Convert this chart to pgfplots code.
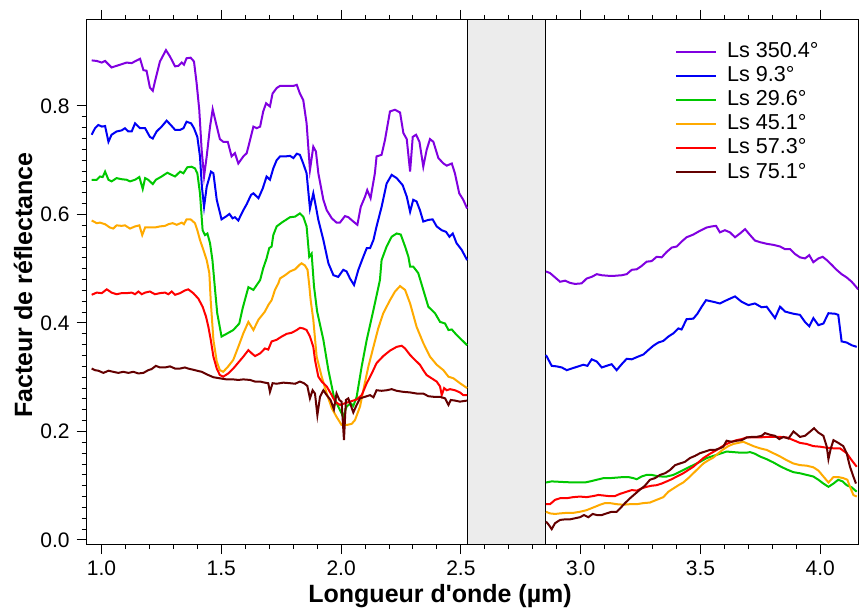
\documentclass[border=0pt]{standalone}
\usepackage{pgfplots}
\pgfplotsset{compat=1.18}
\usepackage{fontspec}
\setmainfont{Liberation Sans}[Ligatures=TeXOff]
\definecolor{cpur}{RGB}{128,0,224}
\definecolor{cblu}{RGB}{0,0,245}
\definecolor{cgre}{RGB}{0,200,0}
\definecolor{cora}{RGB}{255,170,0}
\definecolor{cred}{RGB}{255,0,0}
\definecolor{cdrk}{RGB}{100,0,0}
\definecolor{band}{RGB}{236,236,236}
\begin{document}
\begin{tikzpicture}
\begin{axis}[
 scale only axis,
 width=385.8pt, height=262pt,
 xmin=0.9382, xmax=4.1586, ymin=-0.0074, ymax=0.9585,
 xtick={1,1.5,2,2.5,3,3.5,4}, ytick={0,0.2,0.4,0.6,0.8},
 minor x tick num=4, minor y tick num=9,
 tick align=outside, major tick length=5pt, minor tick length=2.5pt,
 every tick/.style={black, line width=0.5pt},
 axis line style={line width=0.5pt},
 /pgf/number format/assume math mode=true,
 xticklabel style={/pgf/number format/.cd, fixed, fixed zerofill, precision=1},
 yticklabel style={/pgf/number format/.cd, fixed, fixed zerofill, precision=1},
 tick label style={font=\fontsize{10.5}{12}\selectfont},
 xlabel={Longueur d'onde (µm)}, ylabel={Facteur de réflectance},
 label style={font=\bfseries\fontsize{12.5}{14}\selectfont},
 xlabel style={at={(axis description cs:0.458,-0.1107)}, anchor=base},
 ylabel style={at={(axis description cs:-0.0826,0.494)}, anchor=center},
 unbounded coords=jump,
 legend style={draw=none, fill=none, at={(axis description cs:0.7620,0.9654)}, anchor=north west,
   font=\fontsize{10.8}{12}\selectfont, row sep=-1.0pt, inner sep=0pt,
   /tikz/every odd column/.append style={column sep=3pt}},
 legend cell align=left,
 legend image code/.code={\draw[#1] (0pt,0pt) -- (20pt,0pt);},
 every axis plot/.append style={line width=1pt},
]
\fill[band] (axis cs:2.527,-0.0074) rectangle (axis cs:2.852,0.9585);
\draw[black, line width=0.5pt] (axis cs:2.527,-0.0074) -- (axis cs:2.527,0.9585);
\draw[black, line width=0.5pt] (axis cs:2.852,-0.0074) -- (axis cs:2.852,0.9585);

\addplot[cpur] table {
0.959 0.884
0.980 0.883
1.001 0.880
1.015 0.883
1.042 0.871
1.063 0.874
1.084 0.877
1.105 0.880
1.126 0.879
1.147 0.884
1.161 0.887
1.175 0.866
1.188 0.865
1.202 0.834
1.214 0.828
1.223 0.845
1.244 0.882
1.269 0.903
1.286 0.891
1.307 0.873
1.321 0.874
1.335 0.880
1.344 0.876
1.355 0.888
1.372 0.889
1.386 0.882
1.397 0.842
1.408 0.793
1.418 0.719
1.428 0.670
1.439 0.707
1.453 0.762
1.464 0.794
1.478 0.768
1.494 0.739
1.508 0.734
1.527 0.734
1.543 0.707
1.557 0.713
1.571 0.694
1.592 0.707
1.606 0.713
1.620 0.737
1.634 0.762
1.648 0.759
1.662 0.762
1.675 0.790
1.687 0.805
1.703 0.799
1.714 0.823
1.731 0.833
1.745 0.837
1.773 0.837
1.801 0.837
1.815 0.839
1.828 0.823
1.842 0.811
1.856 0.768
1.870 0.682
1.884 0.725
1.895 0.716
1.905 0.676
1.926 0.627
1.940 0.608
1.961 0.593
1.981 0.585
1.995 0.585
2.016 0.597
2.030 0.595
2.051 0.587
2.068 0.581
2.082 0.614
2.100 0.633
2.109 0.645
2.123 0.630
2.141 0.676
2.148 0.707
2.169 0.710
2.183 0.737
2.204 0.790
2.225 0.793
2.246 0.788
2.260 0.750
2.274 0.739
2.288 0.679
2.299 0.743
2.313 0.747
2.327 0.734
2.343 0.688
2.357 0.719
2.371 0.739
2.385 0.734
2.406 0.704
2.427 0.694
2.441 0.690
2.462 0.694
2.475 0.676
2.493 0.639
2.510 0.627
2.526 0.611
2.700 nan
2.855 0.495
2.872 0.492
2.893 0.484
2.914 0.476
2.935 0.478
2.955 0.474
2.976 0.472
3.004 0.473
3.025 0.482
3.046 0.485
3.067 0.490
3.088 0.488
3.115 0.487
3.143 0.487
3.171 0.488
3.192 0.490
3.213 0.498
3.234 0.499
3.254 0.505
3.275 0.513
3.296 0.514
3.317 0.522
3.338 0.521
3.359 0.531
3.380 0.539
3.401 0.541
3.421 0.550
3.442 0.558
3.470 0.563
3.498 0.570
3.526 0.576
3.547 0.578
3.565 0.579
3.581 0.567
3.602 0.571
3.623 0.567
3.644 0.558
3.665 0.565
3.686 0.573
3.707 0.562
3.727 0.552
3.748 0.549
3.776 0.546
3.804 0.544
3.832 0.541
3.853 0.536
3.874 0.536
3.895 0.527
3.915 0.521
3.936 0.519
3.954 0.525
3.971 0.512
3.992 0.519
4.010 0.522
4.027 0.516
4.048 0.507
4.068 0.498
4.089 0.490
4.110 0.484
4.131 0.476
4.145 0.469
4.158 0.462
};
\addlegendentry{Ls 350.4°}

\addplot[cblu] table {
0.959 0.747
0.973 0.759
0.987 0.765
1.001 0.762
1.015 0.763
1.029 0.734
1.042 0.747
1.063 0.753
1.084 0.755
1.098 0.759
1.112 0.753
1.126 0.753
1.140 0.768
1.161 0.759
1.182 0.759
1.202 0.743
1.214 0.740
1.230 0.753
1.251 0.762
1.272 0.773
1.293 0.763
1.307 0.756
1.328 0.756
1.342 0.759
1.355 0.771
1.374 0.768
1.386 0.759
1.400 0.743
1.411 0.707
1.419 0.651
1.428 0.614
1.439 0.651
1.457 0.679
1.467 0.676
1.481 0.627
1.501 0.591
1.522 0.597
1.534 0.601
1.547 0.593
1.557 0.595
1.571 0.589
1.592 0.608
1.606 0.619
1.624 0.636
1.634 0.639
1.655 0.630
1.673 0.648
1.689 0.670
1.703 0.664
1.717 0.685
1.731 0.700
1.745 0.707
1.766 0.707
1.787 0.708
1.801 0.704
1.815 0.712
1.828 0.710
1.842 0.694
1.856 0.676
1.870 0.611
1.884 0.639
1.895 0.614
1.905 0.590
1.926 0.553
1.947 0.510
1.968 0.488
1.988 0.485
2.009 0.498
2.023 0.495
2.037 0.482
2.054 0.470
2.072 0.498
2.090 0.519
2.107 0.538
2.121 0.538
2.135 0.553
2.148 0.578
2.169 0.614
2.190 0.657
2.211 0.673
2.232 0.667
2.257 0.654
2.274 0.633
2.288 0.605
2.301 0.627
2.315 0.624
2.329 0.608
2.343 0.587
2.364 0.590
2.382 0.591
2.399 0.578
2.420 0.571
2.438 0.568
2.452 0.559
2.466 0.565
2.482 0.547
2.503 0.535
2.526 0.516
2.700 nan
2.855 0.341
2.879 0.321
2.900 0.320
2.921 0.318
2.942 0.313
2.962 0.316
2.990 0.320
3.011 0.323
3.028 0.321
3.046 0.333
3.067 0.329
3.088 0.318
3.108 0.321
3.129 0.324
3.150 0.313
3.171 0.324
3.192 0.334
3.213 0.333
3.234 0.337
3.262 0.342
3.282 0.350
3.303 0.358
3.324 0.364
3.345 0.367
3.366 0.375
3.387 0.381
3.408 0.390
3.421 0.388
3.442 0.407
3.470 0.408
3.487 0.417
3.505 0.430
3.523 0.442
3.554 0.439
3.581 0.436
3.609 0.442
3.644 0.449
3.672 0.439
3.700 0.433
3.727 0.436
3.755 0.429
3.776 0.430
3.811 0.409
3.832 0.430
3.853 0.421
3.888 0.417
3.915 0.415
3.936 0.402
3.954 0.394
3.971 0.409
3.992 0.396
4.013 0.399
4.034 0.418
4.062 0.417
4.075 0.415
4.089 0.366
4.110 0.364
4.131 0.359
4.152 0.356
};
\addlegendentry{Ls 9.3°}

\addplot[cgre] table {
0.959 0.664
0.980 0.664
0.994 0.670
1.005 0.669
1.015 0.679
1.029 0.664
1.042 0.661
1.063 0.667
1.084 0.665
1.105 0.664
1.119 0.661
1.140 0.664
1.158 0.669
1.172 0.647
1.182 0.667
1.195 0.664
1.214 0.656
1.227 0.664
1.251 0.670
1.275 0.677
1.293 0.673
1.307 0.670
1.328 0.679
1.342 0.676
1.358 0.687
1.376 0.688
1.390 0.685
1.400 0.676
1.411 0.639
1.422 0.571
1.432 0.562
1.442 0.565
1.453 0.547
1.463 0.516
1.474 0.461
1.483 0.418
1.501 0.375
1.522 0.380
1.550 0.387
1.575 0.399
1.589 0.427
1.613 0.466
1.634 0.461
1.662 0.479
1.675 0.501
1.689 0.519
1.700 0.538
1.710 0.541
1.717 0.562
1.731 0.578
1.752 0.585
1.773 0.591
1.787 0.595
1.808 0.596
1.828 0.602
1.842 0.596
1.856 0.578
1.867 0.522
1.877 0.528
1.887 0.467
1.900 0.421
1.926 0.369
1.947 0.313
1.970 0.264
1.988 0.246
2.009 0.227
2.023 0.246
2.040 0.252
2.051 0.247
2.065 0.264
2.086 0.320
2.107 0.369
2.135 0.424
2.162 0.479
2.169 0.516
2.190 0.541
2.211 0.559
2.232 0.565
2.249 0.563
2.267 0.541
2.281 0.522
2.288 0.504
2.301 0.504
2.322 0.492
2.343 0.461
2.364 0.430
2.392 0.418
2.413 0.402
2.434 0.399
2.448 0.387
2.462 0.388
2.482 0.378
2.503 0.369
2.526 0.359
2.700 nan
2.855 0.106
2.879 0.108
2.921 0.107
2.969 0.106
3.018 0.106
3.039 0.108
3.067 0.111
3.095 0.114
3.122 0.114
3.150 0.115
3.178 0.116
3.199 0.116
3.220 0.114
3.234 0.112
3.254 0.117
3.275 0.120
3.296 0.120
3.317 0.118
3.338 0.117
3.359 0.117
3.387 0.120
3.415 0.126
3.442 0.132
3.470 0.138
3.498 0.144
3.526 0.151
3.554 0.155
3.581 0.159
3.609 0.163
3.637 0.162
3.665 0.161
3.693 0.161
3.707 0.162
3.727 0.159
3.748 0.154
3.776 0.149
3.804 0.143
3.832 0.136
3.860 0.130
3.888 0.125
3.915 0.123
3.943 0.120
3.971 0.117
3.992 0.111
4.013 0.104
4.034 0.098
4.055 0.104
4.075 0.111
4.093 0.108
4.110 0.101
4.131 0.097
4.152 0.089
};
\addlegendentry{Ls 29.6°}

\addplot[cora] table {
0.959 0.589
0.980 0.584
0.994 0.585
1.015 0.582
1.035 0.576
1.049 0.574
1.063 0.580
1.084 0.579
1.098 0.580
1.119 0.574
1.140 0.578
1.158 0.580
1.170 0.562
1.182 0.576
1.202 0.576
1.223 0.576
1.244 0.578
1.265 0.579
1.279 0.582
1.297 0.584
1.314 0.581
1.335 0.585
1.344 0.582
1.355 0.591
1.372 0.591
1.390 0.584
1.400 0.571
1.411 0.553
1.425 0.535
1.439 0.516
1.450 0.492
1.456 0.440
1.467 0.369
1.481 0.329
1.494 0.313
1.508 0.310
1.529 0.320
1.550 0.332
1.571 0.356
1.592 0.381
1.613 0.402
1.634 0.387
1.655 0.406
1.682 0.421
1.696 0.433
1.710 0.442
1.724 0.461
1.738 0.473
1.745 0.482
1.766 0.488
1.787 0.495
1.808 0.499
1.826 0.507
1.835 0.510
1.849 0.506
1.860 0.498
1.867 0.470
1.873 0.442
1.884 0.406
1.898 0.338
1.919 0.301
1.940 0.270
1.961 0.243
1.981 0.227
2.002 0.212
2.023 0.212
2.044 0.214
2.058 0.221
2.079 0.246
2.096 0.283
2.114 0.320
2.135 0.356
2.155 0.390
2.176 0.418
2.204 0.442
2.225 0.458
2.246 0.468
2.267 0.461
2.288 0.436
2.315 0.393
2.343 0.363
2.371 0.338
2.399 0.323
2.427 0.313
2.448 0.301
2.469 0.298
2.496 0.289
2.526 0.280
2.700 nan
2.855 0.052
2.872 0.049
2.893 0.048
2.914 0.049
2.942 0.050
2.969 0.050
2.997 0.052
3.025 0.055
3.053 0.060
3.081 0.065
3.101 0.068
3.122 0.068
3.150 0.066
3.178 0.065
3.206 0.066
3.234 0.066
3.262 0.068
3.289 0.069
3.317 0.074
3.345 0.079
3.366 0.089
3.387 0.095
3.408 0.101
3.428 0.106
3.449 0.114
3.470 0.123
3.491 0.132
3.512 0.141
3.533 0.147
3.554 0.152
3.575 0.160
3.595 0.167
3.616 0.173
3.637 0.177
3.658 0.179
3.679 0.181
3.700 0.177
3.721 0.173
3.748 0.169
3.776 0.166
3.804 0.160
3.832 0.154
3.860 0.147
3.888 0.141
3.915 0.138
3.943 0.137
3.971 0.134
3.992 0.128
4.013 0.117
4.034 0.106
4.055 0.116
4.075 0.116
4.096 0.114
4.113 0.111
4.124 0.098
4.138 0.083
4.152 0.080
};
\addlegendentry{Ls 45.1°}

\addplot[cred] table {
0.959 0.452
0.980 0.456
1.001 0.455
1.022 0.462
1.042 0.456
1.063 0.453
1.084 0.455
1.105 0.455
1.126 0.456
1.140 0.453
1.154 0.458
1.168 0.453
1.182 0.456
1.202 0.458
1.223 0.453
1.244 0.455
1.265 0.456
1.279 0.453
1.293 0.458
1.307 0.452
1.328 0.455
1.348 0.460
1.362 0.462
1.383 0.455
1.404 0.445
1.422 0.430
1.436 0.412
1.446 0.393
1.456 0.369
1.467 0.338
1.481 0.316
1.494 0.304
1.508 0.301
1.529 0.307
1.550 0.316
1.571 0.327
1.592 0.338
1.613 0.350
1.627 0.344
1.641 0.339
1.662 0.344
1.682 0.353
1.696 0.351
1.710 0.366
1.731 0.369
1.752 0.375
1.773 0.380
1.794 0.382
1.815 0.387
1.828 0.391
1.842 0.390
1.856 0.387
1.870 0.375
1.884 0.356
1.891 0.332
1.905 0.301
1.919 0.292
1.940 0.283
1.961 0.267
1.975 0.255
1.995 0.249
2.016 0.252
2.037 0.255
2.065 0.259
2.086 0.267
2.107 0.289
2.128 0.307
2.148 0.326
2.176 0.339
2.204 0.349
2.232 0.356
2.253 0.358
2.267 0.353
2.288 0.341
2.308 0.332
2.329 0.323
2.343 0.313
2.357 0.304
2.378 0.298
2.399 0.292
2.413 0.283
2.420 0.267
2.430 0.280
2.441 0.276
2.455 0.278
2.475 0.276
2.496 0.272
2.510 0.267
2.526 0.267
2.700 nan
2.855 0.066
2.872 0.066
2.893 0.074
2.914 0.077
2.942 0.077
2.969 0.079
2.997 0.080
3.025 0.079
3.053 0.081
3.074 0.083
3.095 0.082
3.115 0.081
3.143 0.081
3.164 0.085
3.192 0.089
3.213 0.092
3.234 0.091
3.254 0.095
3.275 0.098
3.296 0.100
3.317 0.101
3.338 0.104
3.359 0.108
3.380 0.112
3.401 0.117
3.428 0.123
3.449 0.129
3.470 0.135
3.491 0.143
3.512 0.151
3.540 0.159
3.568 0.166
3.589 0.172
3.609 0.177
3.630 0.181
3.651 0.184
3.672 0.186
3.693 0.189
3.721 0.189
3.748 0.189
3.776 0.190
3.804 0.190
3.832 0.190
3.860 0.189
3.888 0.184
3.915 0.179
3.943 0.177
3.971 0.173
3.999 0.172
4.027 0.170
4.055 0.169
4.082 0.169
4.110 0.160
4.131 0.147
4.152 0.135
};
\addlegendentry{Ls 57.3°}

\addplot[cdrk] table {
0.959 0.316
0.973 0.313
0.987 0.312
1.008 0.308
1.029 0.312
1.049 0.310
1.070 0.308
1.091 0.310
1.112 0.308
1.133 0.310
1.154 0.307
1.175 0.308
1.195 0.313
1.209 0.315
1.227 0.321
1.244 0.318
1.265 0.318
1.286 0.320
1.307 0.316
1.328 0.316
1.348 0.318
1.362 0.316
1.390 0.313
1.418 0.310
1.446 0.304
1.467 0.300
1.494 0.298
1.522 0.296
1.550 0.296
1.571 0.295
1.592 0.296
1.620 0.295
1.641 0.292
1.662 0.292
1.682 0.290
1.696 0.289
1.703 0.273
1.714 0.289
1.731 0.288
1.759 0.290
1.787 0.289
1.808 0.288
1.828 0.292
1.845 0.289
1.859 0.284
1.870 0.261
1.881 0.276
1.891 0.270
1.901 0.230
1.912 0.264
1.926 0.276
1.940 0.267
1.956 0.258
1.970 0.241
1.981 0.270
1.993 0.258
2.002 0.255
2.012 0.184
2.020 0.258
2.030 0.261
2.040 0.249
2.051 0.235
2.065 0.249
2.079 0.261
2.100 0.264
2.121 0.267
2.135 0.263
2.148 0.276
2.169 0.275
2.190 0.276
2.211 0.278
2.232 0.275
2.260 0.273
2.288 0.272
2.315 0.270
2.343 0.270
2.364 0.265
2.385 0.264
2.413 0.264
2.434 0.261
2.448 0.249
2.458 0.258
2.475 0.257
2.496 0.255
2.526 0.257
2.700 nan
2.855 0.034
2.865 0.029
2.879 0.020
2.893 0.031
2.914 0.037
2.935 0.038
2.955 0.038
2.976 0.040
2.997 0.042
3.014 0.046
3.032 0.042
3.050 0.048
3.067 0.046
3.088 0.046
3.108 0.049
3.129 0.052
3.150 0.052
3.164 0.058
3.185 0.068
3.206 0.077
3.227 0.085
3.248 0.093
3.268 0.100
3.289 0.111
3.310 0.114
3.331 0.120
3.352 0.123
3.373 0.129
3.394 0.138
3.414 0.141
3.435 0.144
3.456 0.151
3.477 0.155
3.498 0.160
3.519 0.163
3.540 0.166
3.561 0.166
3.581 0.169
3.595 0.172
3.609 0.183
3.630 0.181
3.651 0.183
3.672 0.184
3.693 0.189
3.714 0.190
3.734 0.190
3.755 0.192
3.769 0.197
3.790 0.194
3.811 0.192
3.829 0.186
3.846 0.190
3.867 0.187
3.888 0.200
3.902 0.195
3.915 0.190
3.936 0.192
3.950 0.197
3.974 0.206
3.992 0.198
4.013 0.192
4.027 0.172
4.034 0.149
4.044 0.169
4.055 0.184
4.075 0.179
4.096 0.173
4.110 0.160
4.124 0.135
4.138 0.117
4.149 0.104
};
\addlegendentry{Ls 75.1°}
\end{axis}
\pgfresetboundingbox
\path (current axis.south west) ++(-43.35pt,-34pt) rectangle ++(429.5pt,306pt);
\end{tikzpicture}
\end{document}
